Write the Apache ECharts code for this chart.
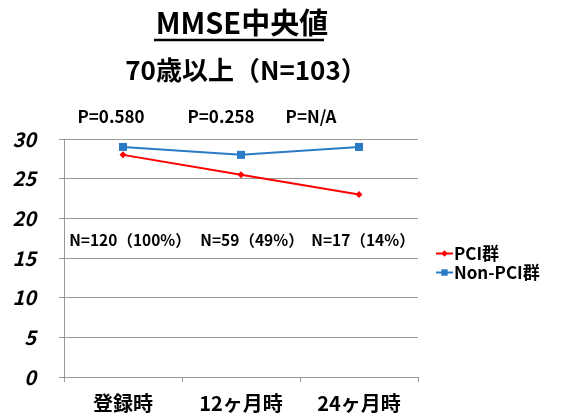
<!DOCTYPE html>
<html>
<head>
<meta charset="utf-8">
<script src="https://cdn.jsdelivr.net/npm/echarts@6/dist/echarts.min.js"></script>
<style>
  html, body { margin: 0; padding: 0; background: #fff; }
  #chart { width: 565px; height: 418px; }
</style>
</head>
<body>
<div id="chart"></div>
<script>
// data
const categories = ['登録時', '12ヶ月時', '24ヶ月時'];
const pciValues = [28, 25.5, 23];
const nonPciValues = [29, 28, 29];
const pLabels = ['P=0.580', 'P=0.258', 'P=N/A'];
const nLabels = ['N=120（100%）', 'N=59（49%）', 'N=17（14%）'];
const yTicks = [0, 5, 10, 15, 20, 25, 30];

const FONT = '"Noto Sans CJK JP", "Noto Sans", sans-serif';
const chart = echarts.init(document.getElementById('chart'));

const option = {
  backgroundColor: '#fff',
  animation: false,
  title: [
    {
      text: 'MMSE中央値',
      left: 237, top: 3, textAlign: 'center',
      textStyle: { fontFamily: FONT, fontSize: 29, fontWeight: 'bold', color: '#000' }
    },
    {
      text: '70歳以上（N=103）',
      left: 241, top: 52, textAlign: 'center',
      textStyle: { fontFamily: FONT, fontSize: 26, fontWeight: 'bold', color: '#000' }
    }
  ],
  legend: {
    orient: 'vertical',
    left: 430, top: 240,
    itemGap: 2,
    itemWidth: 17, itemHeight: 8,
    textStyle: { fontFamily: FONT, fontSize: 17, fontWeight: 'bold', color: '#000', padding: [0, 0, 0, -4] },
    data: ['PCI群', 'Non-PCI群']
  },
  grid: { left: 64, right: 147, top: 139, bottom: 41 },
  xAxis: {
    type: 'category',
    data: categories,
    boundaryGap: true,
    axisLine: { show: true, lineStyle: { color: '#999' } },
    axisTick: { show: true, length: 5, lineStyle: { color: '#999' } },
    axisLabel: { fontFamily: FONT, fontSize: 20, fontWeight: 'bold', color: '#000', margin: 16 }
  },
  yAxis: {
    type: 'value',
    min: 0, max: 30, interval: 5,
    axisLine: { show: true, lineStyle: { color: '#999' } },
    axisTick: { show: true, length: 5, lineStyle: { color: '#999' } },
    splitLine: { lineStyle: { color: '#999', width: 1 } },
    axisLabel: {
      fontFamily: FONT, fontSize: 20, fontWeight: 'bold', fontStyle: 'italic', color: '#000',
      margin: 28,
      formatter: v => yTicks.includes(v) ? String(v) : ''
    }
  },
  series: [
    {
      name: 'PCI群',
      type: 'line',
      data: pciValues,
      symbol: 'diamond', symbolSize: 7,
      lineStyle: { color: '#ff0000', width: 2 },
      itemStyle: { color: '#ff0000' }
    },
    {
      name: 'Non-PCI群',
      type: 'line',
      data: nonPciValues,
      symbol: 'rect', symbolSize: 8,
      lineStyle: { color: '#2a7bc6', width: 2 },
      itemStyle: { color: '#2a7bc6' }
    }
  ]
};
chart.setOption(option);

// annotations: P values above the plot, N counts inside it
const pOffsets = [-12, -20, -48];
const nOffsets = [7, 11, 4];
const graphics = [];
categories.forEach((c, i) => {
  const x = chart.convertToPixel({ xAxisIndex: 0 }, c);
  graphics.push({
    type: 'text', x: x + pOffsets[i], y: 117,
    style: { text: pLabels[i], fontFamily: FONT, fontSize: 17, fontWeight: 'bold', fill: '#000', align: 'center', verticalAlign: 'middle' }
  });
  graphics.push({
    type: 'text', x: x + nOffsets[i], y: chart.convertToPixel({ yAxisIndex: 0 }, 17.3),
    style: { text: nLabels[i], fontFamily: FONT, fontSize: 15.5, fontWeight: 'bold', fill: '#000', align: 'center', verticalAlign: 'middle' }
  });
});
// underline for the title
graphics.push({ type: 'line', shape: { x1: 154, y1: 40, x2: 324, y2: 40 }, style: { stroke: '#000', lineWidth: 2.5 } });
chart.setOption({ graphic: graphics });
</script>
</body>
</html>
